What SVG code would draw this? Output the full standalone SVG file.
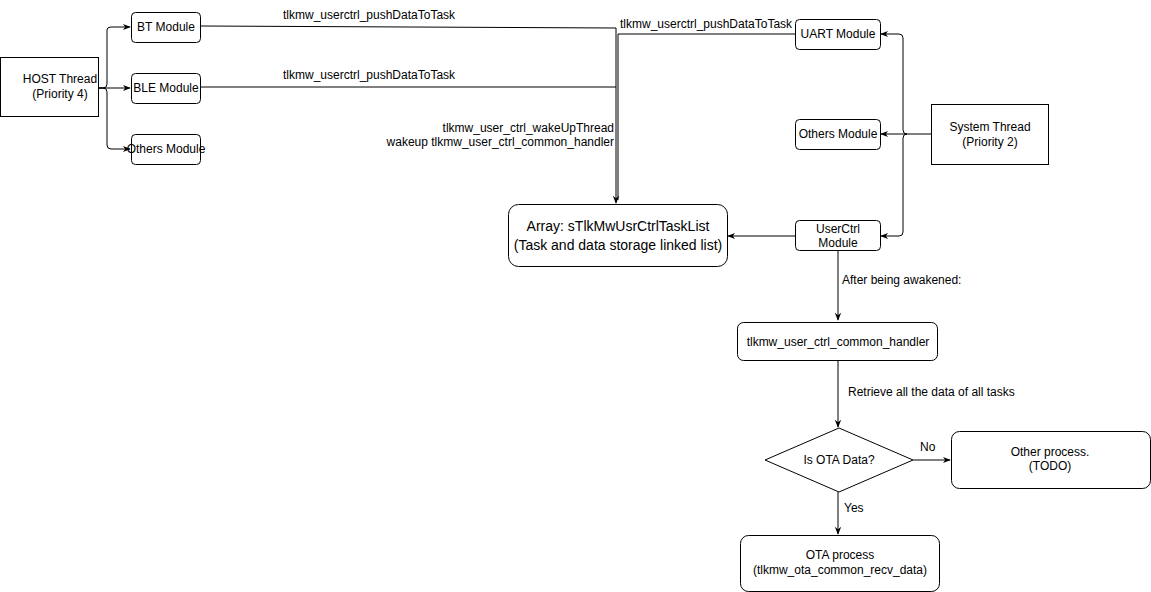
<svg xmlns="http://www.w3.org/2000/svg" width="1151" height="592" viewBox="0 0 1151 592">
<style>
text{font-family:"Liberation Sans",Arial,sans-serif;font-size:12px;fill:#000}
.b{fill:#fff;stroke:#000;stroke-width:1}
.c{fill:none;stroke:#000;stroke-width:1}
</style>
<defs><marker id="a" viewBox="0 0 10 10" refX="9" refY="5" markerWidth="8" markerHeight="8" orient="auto"><path d="M0,1 L10,5 L0,9 L3,5z" fill="#000"/></marker></defs>
<rect width="1151" height="592" fill="#fff"/>
<g id="connectors" class="c">
<path d="M99,88 H103 Q107,88 107,84 V30 Q107,27 111,27 H130" marker-end="url(#a)"/>
<path d="M99,88 H130" marker-end="url(#a)"/>
<path d="M99,88 H103 Q107,88 107,92 V145 Q107,149 111,149 H130" marker-end="url(#a)"/>
<path d="M200,26 L616,28 V203" marker-end="url(#a)"/>
<path d="M200,87 H616"/>
<path d="M795,34 H618 V200"/>
<path d="M931,134 H907 Q903,134 903,130 V38 Q903,34 899,34 H881" marker-end="url(#a)"/>
<path d="M907,134 H881" marker-end="url(#a)"/>
<path d="M907,134 Q903,134 903,138 V232 Q903,236 899,236 H881" marker-end="url(#a)"/>
<path d="M795,236 H728" marker-end="url(#a)"/>
<path d="M838,250 V320" marker-end="url(#a)"/>
<path d="M838,360 V427" marker-end="url(#a)"/>
<path d="M913,460 H950" marker-end="url(#a)"/>
<path d="M838,492 V534" marker-end="url(#a)"/>
</g>
<text x="283" y="19">tlkmw_userctrl_pushDataToTask</text>
<text x="283" y="79">tlkmw_userctrl_pushDataToTask</text>
<text x="620" y="28">tlkmw_userctrl_pushDataToTask</text>
<text x="614" y="132" text-anchor="end">tlkmw_user_ctrl_wakeUpThread</text>
<text x="614" y="146" text-anchor="end">wakeup tlkmw_user_ctrl_common_handler</text>
<text x="842" y="284">After being awakened:</text>
<text x="848" y="396">Retrieve all the data of all tasks</text>
<text x="920" y="451">No</text>
<text x="844" y="512">Yes</text>
<g id="host"><rect class="b" x="0.5" y="57.5" width="98" height="59"/><text x="60" y="83" text-anchor="middle">HOST Thread</text><text x="60" y="98" text-anchor="middle">(Priority 4)</text></g>
<g id="bt"><rect class="b" x="131.5" y="12.5" width="69" height="30" rx="4"/><text x="166" y="31" text-anchor="middle">BT Module</text></g>
<g id="ble"><rect class="b" x="131.5" y="73.5" width="69" height="30" rx="4"/><text x="166" y="92" text-anchor="middle">BLE Module</text></g>
<g id="others1"><rect class="b" x="131.5" y="134.5" width="69" height="30" rx="4"/><text x="166" y="153" text-anchor="middle">Others Module</text></g>
<g id="array"><rect class="b" x="508.5" y="204.5" width="219" height="62" rx="10"/><text x="618" y="231" text-anchor="middle" style="font-size:14px">Array: sTlkMwUsrCtrlTaskList</text><text x="618" y="250" text-anchor="middle" style="font-size:14px">(Task and data storage linked list)</text></g>
<g id="uart"><rect class="b" x="795.5" y="19.5" width="85" height="30" rx="4"/><text x="838" y="38" text-anchor="middle">UART Module</text></g>
<g id="others2"><rect class="b" x="795.5" y="119.5" width="85" height="30" rx="4"/><text x="838" y="138" text-anchor="middle">Others Module</text></g>
<g id="userctrl"><rect class="b" x="795.5" y="220.5" width="85" height="30" rx="4"/><text x="838" y="233" text-anchor="middle">UserCtrl</text><text x="838" y="247" text-anchor="middle">Module</text></g>
<g id="system"><rect class="b" x="931.5" y="104.5" width="117" height="60"/><text x="990" y="131" text-anchor="middle">System Thread</text><text x="990" y="146" text-anchor="middle">(Priority 2)</text></g>
<g id="handler"><rect class="b" x="737.5" y="322.5" width="200" height="38" rx="6"/><text x="838" y="346" text-anchor="middle">tlkmw_user_ctrl_common_handler</text></g>
<g id="isota"><polygon class="b" points="839,428 913,460 839,492 765,460"/><text x="839" y="464" text-anchor="middle">Is OTA Data?</text></g>
<g id="other"><rect class="b" x="951.5" y="431.5" width="199" height="57" rx="8"/><text x="1050" y="456" text-anchor="middle">Other process.</text><text x="1050" y="470" text-anchor="middle">(TODO)</text></g>
<g id="ota"><rect class="b" x="740.5" y="535.5" width="199" height="56" rx="8"/><text x="840" y="559" text-anchor="middle">OTA process</text><text x="840" y="574" text-anchor="middle">(tlkmw_ota_common_recv_data)</text></g>
</svg>
